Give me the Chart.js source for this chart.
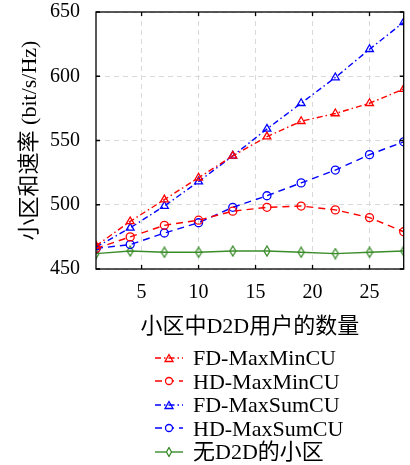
<!DOCTYPE html>
<html>
<head>
<meta charset="utf-8">
<script src="https://cdn.jsdelivr.net/npm/chart.js@4/dist/chart.umd.min.js"></script>
<style>
  body { margin: 0; background: #fff; }
  #wrap { position: relative; width: 410px; height: 465px; }
  #legend { position: absolute; left: 155px; top: 346px; font: 22px "Liberation Serif", "Noto Sans CJK SC", serif; color: #000; }
  #legend div { height: 23.5px; line-height: 23.5px; white-space: nowrap; }
  #legend svg { vertical-align: middle; margin-right: 10px; position: relative; top: -2px; }
</style>
</head>
<body>
<div id="wrap">
  <canvas id="c" width="410" height="465"></canvas>
  <div id="legend"></div>
</div>
<script>
// 数据
const users = [1, 4, 7, 10, 13, 16, 19, 22, 25, 28];
const fdMaxMin = [468, 487, 504, 521, 538, 553, 565, 571, 579, 590];
const hdMaxMin = [466, 475, 484, 488, 495, 498, 499, 496, 490, 479];
const fdMaxSum = [467, 482, 499, 518, 538, 559, 579, 599, 621, 642];
const hdMaxSum = [466, 469, 478, 486, 498, 507, 517, 527, 539, 549];
const noD2D = [462, 464, 463, 463, 464, 464, 463, 462, 463, 464];
const xTicks = [5, 10, 15, 20, 25];

const RED = '#ff0000', BLUE = '#0000ff', GREEN = '#3a8c2a';
const dashDot = [6, 3, 1.5, 3];
const dashed = [7, 5];

// 细长的菱形标记
function diamond(color) {
  const cv = document.createElement('canvas');
  cv.width = 8; cv.height = 12;
  const g = cv.getContext('2d');
  g.strokeStyle = color; g.lineWidth = 1.3;
  g.beginPath();
  g.moveTo(4, 1); g.lineTo(7, 6); g.lineTo(4, 11); g.lineTo(1, 6); g.closePath();
  g.stroke();
  return cv;
}

const series = [
  { label: 'FD-MaxMinCU', data: fdMaxMin, color: RED, dash: dashDot, style: 'triangle', r: 4.5 },
  { label: 'HD-MaxMinCU', data: hdMaxMin, color: RED, dash: dashed, style: 'circle', r: 4 },
  { label: 'FD-MaxSumCU', data: fdMaxSum, color: BLUE, dash: dashDot, style: 'triangle', r: 4.5 },
  { label: 'HD-MaxSumCU', data: hdMaxSum, color: BLUE, dash: dashed, style: 'circle', r: 4 },
  { label: '无D2D的小区', data: noD2D, color: GREEN, dash: [], style: diamond(GREEN), r: 5 }
];

const datasets = series.map(s => ({
  label: s.label,
  data: users.map((x, i) => ({ x: x, y: s.data[i] })),
  borderColor: s.color,
  backgroundColor: 'rgba(0,0,0,0)',
  borderWidth: 1.4,
  borderDash: s.dash,
  pointStyle: s.style,
  pointRadius: s.r,
  pointBorderWidth: 1.3,
  pointBorderColor: s.color,
  pointBackgroundColor: 'rgba(0,0,0,0)',
  tension: 0
}));

// 坐标框和内刻度
const boxPlugin = {
  id: 'box',
  afterDraw(chart) {
    const { ctx, chartArea: a, scales } = chart;
    ctx.save();
    ctx.strokeStyle = '#000';
    ctx.lineWidth = 1.3;
    ctx.beginPath();
    scales.y.ticks.forEach(t => {
      const py = scales.y.getPixelForValue(t.value);
      ctx.moveTo(a.left, py); ctx.lineTo(a.left + 4, py);
      ctx.moveTo(a.right, py); ctx.lineTo(a.right - 4, py);
    });
    scales.x.ticks.forEach(t => {
      const px = scales.x.getPixelForValue(t.value);
      ctx.moveTo(px, a.bottom); ctx.lineTo(px, a.bottom - 4);
      ctx.moveTo(px, a.top); ctx.lineTo(px, a.top + 4);
    });
    ctx.stroke();
    ctx.strokeRect(a.left, a.top, a.right - a.left, a.bottom - a.top);
    ctx.restore();
  }
};

const tickFont = { family: '"Liberation Serif", serif', size: 20 };
const titleFont = { family: '"Liberation Serif", "Noto Sans CJK SC", serif', size: 22 };

new Chart(document.getElementById('c'), {
  type: 'line',
  data: { datasets: datasets },
  options: {
    responsive: false,
    animation: false,
    layout: { padding: { left: 0, right: 3, top: 0, bottom: 125 } },
    plugins: { legend: { display: false }, tooltip: { enabled: false } },
    scales: {
      x: {
        type: 'linear',
        min: 1, max: 28,
        afterBuildTicks: s => { s.ticks = xTicks.map(v => ({ value: v })); },
        afterFit: s => { s.height = 71; },
        ticks: { color: '#000', font: tickFont, padding: 12, maxRotation: 0 },
        grid: { color: '#d9d9d9', lineWidth: 1, drawTicks: false },
        border: { display: false, dash: [5, 4] },
        title: { display: true, text: '小区中D2D用户的数量', color: '#000', font: titleFont, padding: { top: 0, bottom: 0 } }
      },
      y: {
        min: 450, max: 650,
        afterFit: s => { s.width = 96; },
        ticks: { stepSize: 50, color: '#000', font: tickFont, padding: 0 },
        grid: { color: '#d9d9d9', lineWidth: 1, drawTicks: true, tickLength: 16, tickColor: 'rgba(0,0,0,0)' },
        border: { display: false, dash: [5, 4] },
        title: { display: true, text: '小区和速率 (bit/s/Hz)', color: '#000', font: titleFont, padding: { top: 17, bottom: 0 } }
      }
    }
  },
  plugins: [boxPlugin]
});

// 图例
const legend = document.getElementById('legend');
series.forEach(s => {
  const row = document.createElement('div');
  const dash = s.dash.length ? ` stroke-dasharray="${s.dash.join(' ')}"` : '';
  let mark;
  if (s.style === 'triangle') mark = `<polygon points="14,1.5 18,8.5 10,8.5" fill="none" stroke="${s.color}" stroke-width="1.3"/>`;
  else if (s.style === 'circle') mark = `<circle cx="14" cy="5" r="3.5" fill="#fff" stroke="${s.color}" stroke-width="1.3"/>`;
  else mark = `<polygon points="14,0.5 16.5,5 14,9.5 11.5,5" fill="#fff" stroke="${s.color}" stroke-width="1.3"/>`;
  row.innerHTML = `<svg width="28" height="10"><line x1="0" y1="5" x2="28" y2="5" stroke="${s.color}" stroke-width="1.4"${dash}/>${mark}</svg><span>${s.label}</span>`;
  legend.appendChild(row);
});
</script>
</body>
</html>
